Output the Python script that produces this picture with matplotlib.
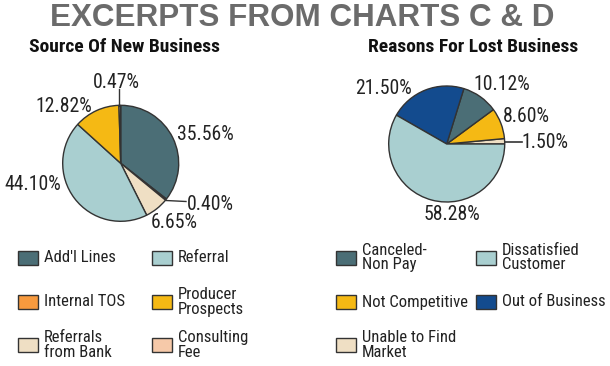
import matplotlib
matplotlib.use("Agg")
from matplotlib import pyplot as plt
from matplotlib import font_manager
from matplotlib.patches import Rectangle

# chart C: source of new business (legend order)
src_labels = ["Add'l Lines", "Referral", "Internal TOS", "Producer\nProspects",
              "Referrals\nfrom Bank", "Consulting\nFee"]
src_values = [35.56, 44.10, 0.40, 12.82, 6.65, 0.47]
src_pie_order = [0, 2, 4, 1, 3, 5]   # clockwise from 12 o'clock

# chart D: reasons for lost business (legend order)
lost_labels = ["Canceled-\nNon Pay", "Dissatisfied\nCustomer", "Not Competitive",
               "Out of Business", "Unable to Find\nMarket"]
lost_values = [10.12, 58.28, 8.60, 21.50, 1.50]
lost_pie_order = [4, 2, 0, 3, 1]    # counterclockwise from 3 o'clock

src_colors = ["#4b6e76", "#a9cfd0", "#f79a3e", "#f5b914", "#efdfc4", "#f6c9a9"]
lost_colors = ["#4b6e76", "#a9cfd0", "#f5b914", "#134b8e", "#efdfc4"]

W, H = 610, 366
EDGE = "#333333"
TXT = "#222222"

available = {f.name for f in font_manager.fontManager.ttflist}
NARROW, k = "Liberation Sans", 0.85
for name in ["Roboto Condensed", "Liberation Sans Narrow"]:
    if name in available:
        NARROW, k = name, 1.0
        break


def Y(y):
    return H - y


fig = plt.figure(figsize=(W / 100, H / 100), dpi=100)
ax = fig.add_axes([0, 0, 1, 1])

# pies
ax.pie([src_values[i] for i in src_pie_order], center=(120.7, Y(163.3)), radius=58,
       startangle=90, counterclock=False,
       colors=[src_colors[i] for i in src_pie_order],
       wedgeprops=dict(edgecolor=EDGE, linewidth=1))
ax.pie([lost_values[i] for i in lost_pie_order], center=(446.7, Y(144)), radius=58,
       startangle=0, counterclock=True,
       colors=[lost_colors[i] for i in lost_pie_order],
       wedgeprops=dict(edgecolor=EDGE, linewidth=1))
ax.set_xlim(0, W)
ax.set_ylim(0, H)
ax.set_aspect("equal")
ax.axis("off")

# percentage labels (legend-order index -> label centre in image px)
src_label_pos = {0: (205, 135), 1: (33, 185), 2: (210, 204), 3: (64, 107),
                 4: (174, 223), 5: (116, 82)}
lost_label_pos = {0: (502, 85), 1: (452, 215), 2: (526, 117), 3: (383, 89),
                  4: (545, 142)}

for i, (x, y) in src_label_pos.items():
    ax.text(x, Y(y), f"{src_values[i]:.2f}%", ha="center", va="center",
            fontsize=14.2 * k, family=NARROW, color=TXT)
for i, (x, y) in lost_label_pos.items():
    ax.text(x, Y(y), f"{lost_values[i]:.2f}%", ha="center", va="center",
            fontsize=14.2 * k, family=NARROW, color=TXT)

# leader lines
ax.plot([166, 186], [Y(200.5), Y(201.5)], color=EDGE, lw=1)
ax.plot([119, 119], [Y(89), Y(106)], color=EDGE, lw=1)
ax.plot([505, 522], [Y(142), Y(142)], color=EDGE, lw=1.2)

# titles
fig.text(302 / W, 1 - 17.5 / H, "EXCERPTS FROM CHARTS C & D", ha="center", va="center",
         fontsize=22.6, fontweight="bold", family="Liberation Sans", color="#6b6b6b")
fig.text(29 / W, 1 - 46.5 / H, "Source Of New Business", ha="left", va="center",
         fontsize=14 * k, fontweight="bold", family=NARROW, color="#111111")
fig.text(368 / W, 1 - 46.5 / H, "Reasons For Lost Business", ha="left", va="center",
         fontsize=14 * k, fontweight="bold", family=NARROW, color="#111111")


def legend(labels, colors, cols_x, rows_y):
    for n, (lab, col) in enumerate(zip(labels, colors)):
        px = cols_x[n % 2]
        py = rows_y[n // 2]
        ax.add_patch(Rectangle((px, Y(py) - 7), 20, 14, facecolor=col,
                               edgecolor=EDGE, linewidth=1))
        ax.text(px + 26, Y(py), lab, ha="left", va="center", fontsize=12 * k,
                family=NARROW, color=TXT, linespacing=0.92)


legend(src_labels, src_colors, [18, 152], [258, 302, 345])
legend(lost_labels, lost_colors, [336, 476], [257.5, 302, 345])

fig.savefig("out.png", dpi=100, facecolor="white")
